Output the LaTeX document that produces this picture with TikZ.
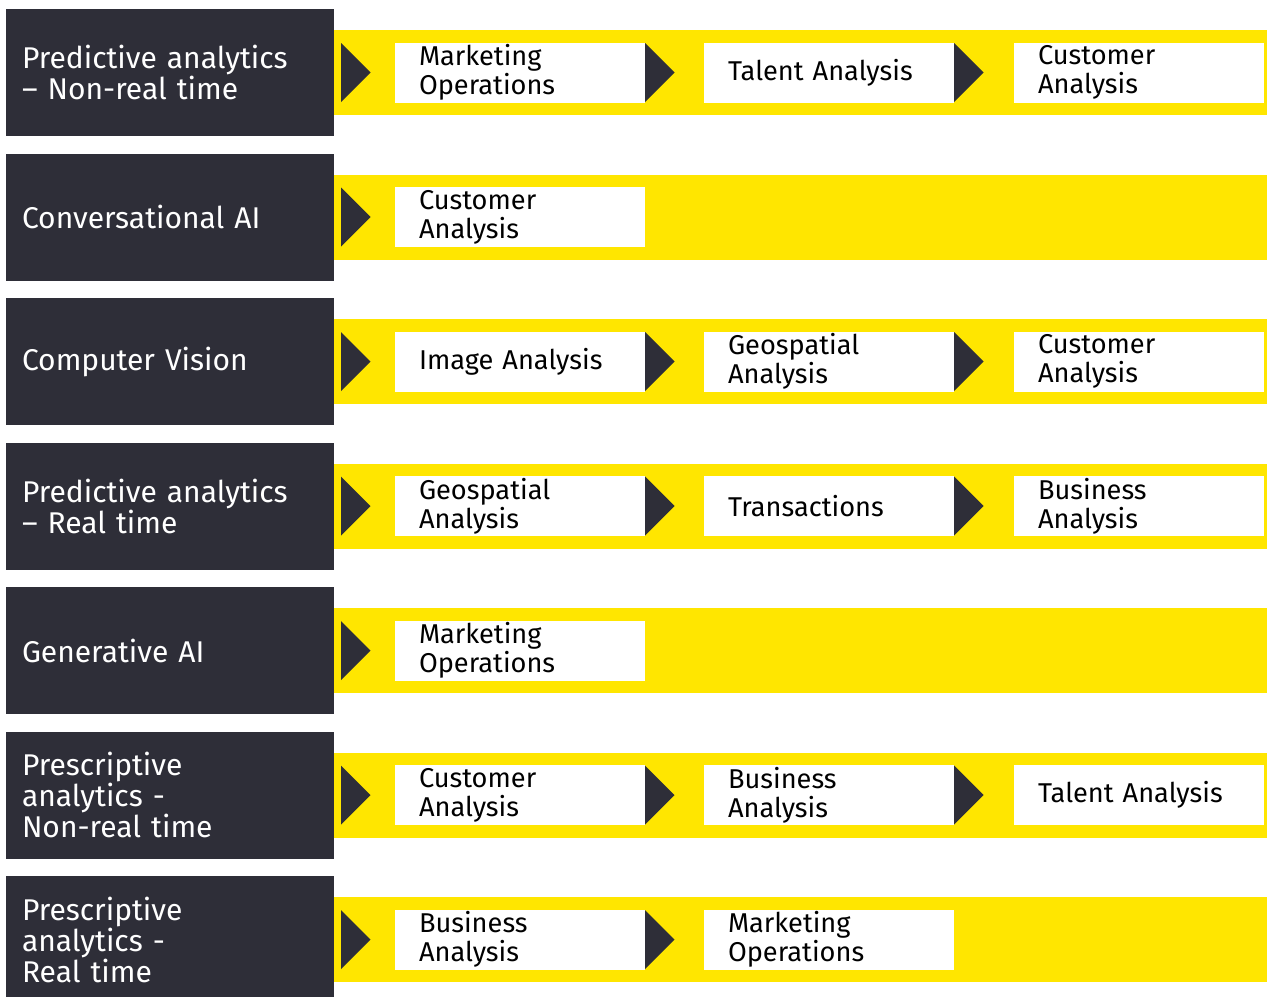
\documentclass[tikz,border=0pt]{standalone}
\usepackage{fontspec}
\setmainfont{Fira Sans}
\usetikzlibrary{positioning}
\definecolor{eydark}{HTML}{2E2E38}
\definecolor{eyyellow}{HTML}{FFE600}
% dark pointer in front of a step box
\newcommand{\rowarrow}[2]{\fill[eydark] ([xshift=#2,yshift=14.75pt]#1) -- ([xshift=#2+14.75pt]#1) -- ([xshift=#2,yshift=-14.75pt]#1) -- cycle;}
\begin{document}
\begin{tikzpicture}[x=0.5pt,y=-0.5pt,
    every node/.style={outer sep=0pt},
    cat/.style={fill=eydark, text=white, anchor=north west, minimum width=164pt, minimum height=63.5pt,
      text width=148pt, inner xsep=8pt, inner ysep=0pt, align=left, font=\fontsize{15}{15.5}\selectfont},
    band/.style={fill=eyyellow, inner sep=0pt, minimum width=466.5pt, minimum height=42.5pt},
    item/.style={fill=white, minimum width=125pt, minimum height=30pt, text width=101pt,
      inner xsep=12pt, inner ysep=0pt, align=left, font=\fontsize{13.6}{14.5}\selectfont}]
  \useasboundingbox (0,0) rectangle (1267,996);

  \node[cat] (cat0) at (6,9){Predictive analytics\\– Non-real time};
  \node[band, right=0pt of cat0] (band0){};
  \node[item, right=30.5pt of band0.west] (s01){Marketing\\Operations};
  \node[item, right=29.5pt of s01] (s02){Talent Analysis};
  \node[item, right=30pt of s02] (s03){Customer\\Analysis};
  \rowarrow{band0.west}{3.5pt}
  \rowarrow{s01.east}{0pt}
  \rowarrow{s02.east}{0pt}

  \node[cat] (cat1) at (6,153.5){Conversational AI};
  \node[band, right=0pt of cat1] (band1){};
  \node[item, right=30.5pt of band1.west] (s11){Customer\\Analysis};
  \rowarrow{band1.west}{3.5pt}

  \node[cat] (cat2) at (6,298){Computer Vision};
  \node[band, right=0pt of cat2] (band2){};
  \node[item, right=30.5pt of band2.west] (s21){Image Analysis};
  \node[item, right=29.5pt of s21] (s22){Geospatial\\Analysis};
  \node[item, right=30pt of s22] (s23){Customer\\Analysis};
  \rowarrow{band2.west}{3.5pt}
  \rowarrow{s21.east}{0pt}
  \rowarrow{s22.east}{0pt}

  \node[cat] (cat3) at (6,442.5){Predictive analytics\\– Real time};
  \node[band, right=0pt of cat3] (band3){};
  \node[item, right=30.5pt of band3.west] (s31){Geospatial\\Analysis};
  \node[item, right=29.5pt of s31] (s32){Transactions};
  \node[item, right=30pt of s32] (s33){Business\\Analysis};
  \rowarrow{band3.west}{3.5pt}
  \rowarrow{s31.east}{0pt}
  \rowarrow{s32.east}{0pt}

  \node[cat] (cat4) at (6,587){Generative AI};
  \node[band, right=0pt of cat4] (band4){};
  \node[item, right=30.5pt of band4.west] (s41){Marketing\\Operations};
  \rowarrow{band4.west}{3.5pt}

  \node[cat] (cat5) at (6,731.5){Prescriptive\\analytics -\\Non-real time};
  \node[band, right=0pt of cat5] (band5){};
  \node[item, right=30.5pt of band5.west] (s51){Customer\\Analysis};
  \node[item, right=29.5pt of s51] (s52){Business\\Analysis};
  \node[item, right=30pt of s52] (s53){Talent Analysis};
  \rowarrow{band5.west}{3.5pt}
  \rowarrow{s51.east}{0pt}
  \rowarrow{s52.east}{0pt}

  \node[cat] (cat6) at (6,876){Prescriptive\\analytics -\\Real time};
  \node[band, right=0pt of cat6] (band6){};
  \node[item, right=30.5pt of band6.west] (s61){Business\\Analysis};
  \node[item, right=29.5pt of s61] (s62){Marketing\\Operations};
  \rowarrow{band6.west}{3.5pt}
  \rowarrow{s61.east}{0pt}
\end{tikzpicture}
\end{document}
